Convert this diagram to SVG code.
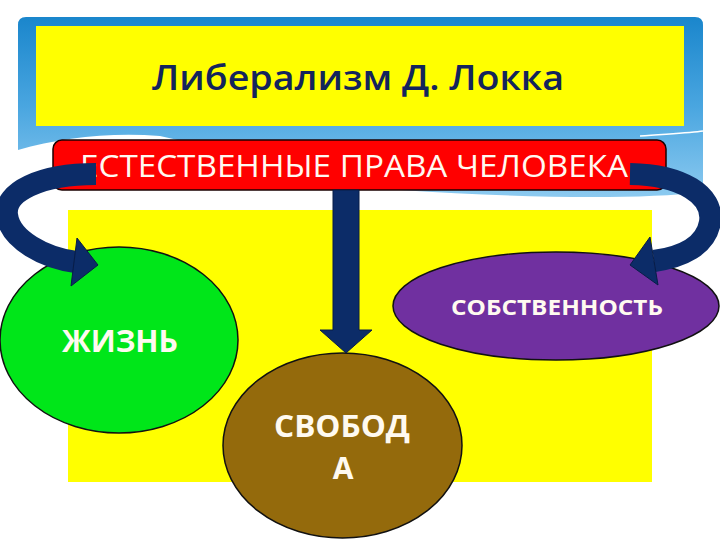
<svg xmlns="http://www.w3.org/2000/svg" width="720" height="540" viewBox="0 0 720 540">
<defs>
<linearGradient id="blueGrad" x1="0" y1="0" x2="0" y2="1">
<stop offset="0" stop-color="#1a86cc"/>
<stop offset="0.5" stop-color="#4aa6e0"/>
<stop offset="1" stop-color="#8ccaf0"/>
</linearGradient>
<style>
.arrow{fill:none;stroke:#0c2c68;stroke-width:22;stroke-linecap:butt}
.head{fill:#0c2c68;stroke:#081d47;stroke-width:1}
.node{stroke:#111;stroke-width:1.5}
.lbl{font-family:"Open Sans","Liberation Sans",sans-serif;font-weight:bold;fill:#fffaf0;text-anchor:middle}
</style>
</defs>
<rect width="720" height="540" fill="#ffffff"/>
<g id="background">
<path d="M18,25 Q18,17 26,17 H695 Q703,17 703,25 V192 C 640,200 520,198 400,190 L 160,136 C 110,132 60,138 18,150 Z" fill="url(#blueGrad)"/>
<path d="M640,136 C 665,134 690,133 703,131" fill="none" stroke="#ffffff" stroke-width="1.5"/>
<rect x="68" y="210" width="584" height="272" fill="#ffff00"/>
</g>
<g id="title">
<rect x="36" y="26" width="648" height="100" fill="#ffff00"/>
<text x="358" y="90" font-family="'Open Sans','Liberation Sans',sans-serif" font-size="35" font-weight="600" fill="#13245c" text-anchor="middle" textLength="412" lengthAdjust="spacingAndGlyphs">Либерализм Д. Локка</text>
</g>
<g id="rights">
<rect x="53" y="140" width="613" height="50" rx="9" ry="9" fill="#ff0000" stroke="#1a0000" stroke-width="1.5"/>
<text x="354" y="177" font-family="'Open Sans','Liberation Sans',sans-serif" font-size="31" fill="#fff8f0" text-anchor="middle" textLength="548" lengthAdjust="spacingAndGlyphs">ЕСТЕСТВЕННЫЕ ПРАВА ЧЕЛОВЕКА</text>
</g>
<g id="life">
<ellipse class="node" cx="119" cy="340" rx="119" ry="93" fill="#00e619"/>
<text class="lbl" x="120" y="352" font-size="31" textLength="116" lengthAdjust="spacingAndGlyphs">ЖИЗНЬ</text>
</g>
<g id="property">
<ellipse class="node" cx="556" cy="306" rx="163" ry="54" fill="#7030a0"/>
<text class="lbl" x="557" y="315" font-size="22" textLength="212" lengthAdjust="spacingAndGlyphs">СОБСТВЕННОСТЬ</text>
</g>
<g id="freedom">
<ellipse class="node" cx="342.5" cy="445.5" rx="119.5" ry="92.5" fill="#946a0c"/>
<text class="lbl" x="342" y="437" font-size="30" textLength="136" lengthAdjust="spacingAndGlyphs">СВОБОД</text>
<text class="lbl" x="343" y="479" font-size="30">А</text>
</g>
<g id="connectors">
<path class="arrow" d="M96,174 C 40,174 4,192 7,215 C 10,240 45,258 76,262"/>
<polygon class="head" points="77,238 98,265 71,286"/>
<path class="arrow" d="M630,174 C 682,175 714,195 710,222 C 706,246 682,257 654,261"/>
<polygon class="head" points="650,237 630,265 658,285"/>
<polygon class="head" points="333,190 359,190 359,330 372,330 346,353 320,330 333,330"/>
</g>
</svg>
